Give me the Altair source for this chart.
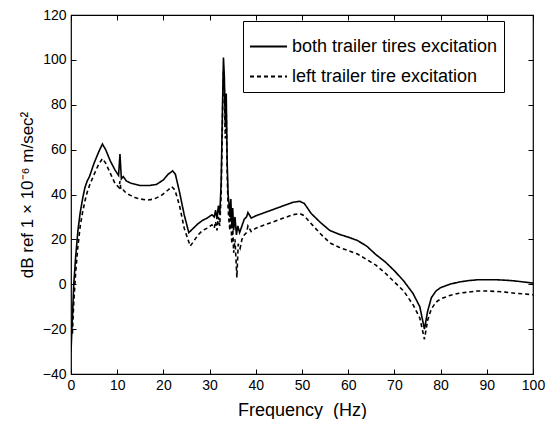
import altair as alt
import pandas as pd

# ---- data ----
series_names = ["both trailer tires excitation", "left trailer tire excitation"]

freq_both = [0, 0.3, 0.6, 1.0, 1.5, 2.0, 2.5, 3.0, 3.5, 4.0, 5.0, 6.0, 6.8, 7.5, 8.5, 9.5,
             10.3, 10.6, 10.9, 11.3, 12, 13, 15, 17, 18.5, 20, 21, 22, 22.6, 23.5, 24.5, 25.5,
             26.5, 27.5, 28.5, 29.5, 30.5, 31.0, 31.3, 31.6, 31.9, 32.2, 32.5, 32.8, 33.0, 33.2,
             33.4, 33.6, 33.8, 34.0, 34.2, 34.4, 34.6, 34.8, 35.0, 35.2, 35.5, 35.8, 36.1, 36.5,
             37.0, 37.5, 38.0, 38.3, 39, 40, 42, 44, 46, 48, 49.5, 50.5, 52, 54, 56, 58, 60,
             62, 64, 66, 68, 70, 72, 74, 75.5, 76.5, 77.2, 78, 79, 80, 82, 84, 86, 88, 90, 92,
             94, 96, 98, 100]
db_both = [-30, -15, 0, 12, 24, 32, 38, 43, 46, 48, 54, 59, 62.5, 60, 55, 51,
           48.5, 58, 47, 48, 46, 45, 44, 44, 44.5, 46.5, 49, 50.5, 49, 41, 31, 23,
           25, 27, 28.5, 29.5, 31, 30, 33, 29, 35, 31, 45, 80, 101, 92,
           70, 85, 55, 40, 36, 30, 38, 26, 34, 24, 30, 22, 26, 23,
           26, 29, 30, 32, 29.5, 30.5, 32, 33.5, 35, 36.5, 37, 36, 31.5, 27.5, 24, 22.3, 21,
           19.5, 17, 13.2, 10, 6, 1.5, -4, -10, -20, -12, -6, -3, -1.5, 0, 1, 1.6, 2, 2, 2,
           1.8, 1.5, 1, 0.5]

freq_left = [0.3, 0.6, 1.0, 1.5, 2.0, 2.5, 3.0, 3.5, 4.0, 5.0, 6.0, 6.8, 7.5, 8.5, 9.5,
             10.4, 10.6, 10.8, 11.3, 12, 13, 14, 15, 16.5, 18, 19.5, 21, 21.8, 22.5, 23.5, 24.5,
             25.8, 26.5, 27.5, 28.5, 29.5, 30.5, 31.0, 31.3, 31.6, 31.9, 32.2, 32.5, 32.8, 33.0,
             33.2, 33.4, 33.6, 33.8, 34.0, 34.2, 34.4, 34.6, 34.8, 35.0, 35.2, 35.5, 35.9, 36.2,
             36.6, 37.0, 37.5, 38.0, 38.3, 39, 40, 42, 44, 46, 48, 49.5, 50.5, 52, 54, 56, 58,
             60, 62, 64, 66, 68, 70, 72, 74, 75.5, 76.5, 77.2, 78, 79, 80, 82, 84, 86, 88, 90,
             92, 94, 96, 98, 100]
db_left = [-22, -8, 5, 17, 26, 32, 37, 41, 44, 49, 53.5, 56, 54, 49.5, 45,
           43, 46, 42, 42, 40.5, 39.5, 38.5, 38, 37.5, 38, 39.5, 42, 43.5, 42, 35, 25,
           17, 19, 22, 24, 25, 26.5, 25, 28, 24, 30, 26, 40, 75, 95,
           86, 65, 78, 50, 34, 28, 24, 32, 18, 26, 14, 20, 3, 18,
           16, 20, 22, 23, 26, 23.5, 25, 26.5, 28, 29.5, 31, 31.5, 30.5, 27, 22.5, 18.5, 16.5,
           15, 13.5, 11, 8.5, 5, 1, -3, -9, -15, -24.5, -16, -11, -8, -6.5, -5, -4, -3.5, -3, -3,
           -3.2, -3.5, -4, -4.3, -4.7]

x_ticks = [0, 10, 20, 30, 40, 50, 60, 70, 80, 90, 100]
y_ticks = [-40, -20, 0, 20, 40, 60, 80, 100, 120]

df = pd.concat([
    pd.DataFrame({"f": freq_both, "v": db_both, "series": series_names[0]}),
    pd.DataFrame({"f": freq_left, "v": db_left, "series": series_names[1]}),
], ignore_index=True)

W, H = 462, 359
FONT = "Liberation Sans"

x_scale = alt.Scale(domain=[0, 100], nice=False, zero=False)
y_scale = alt.Scale(domain=[-40, 120], nice=False, zero=False)

lines = alt.Chart(df).mark_line(clip=True, color="black", strokeWidth=1.6).encode(
    x=alt.X("f:Q", scale=x_scale,
            axis=alt.Axis(values=x_ticks, ticks=False, domain=False, grid=False,
                          title="Frequency\u00a0\u00a0(Hz)", titleFontSize=18,
                          titleFont=FONT, titleFontWeight="normal", titleColor="black",
                          titlePadding=9, labelFont=FONT, labelFontSize=14,
                          labelColor="black", labelPadding=4, labelFlush=False)),
    y=alt.Y("v:Q", scale=y_scale,
            axis=alt.Axis(values=y_ticks, ticks=False, domain=False, grid=False,
                          title="dB ref 1 \u00d7 10\u207b\u2076 m/sec\u00b2", titleFontSize=17,
                          titleFont=FONT, titleFontWeight="normal", titleColor="black",
                          titlePadding=6, labelFont=FONT, labelFontSize=14,
                          labelColor="black", labelPadding=5, labelFlush=False)),
    strokeDash=alt.StrokeDash(
        "series:N",
        scale=alt.Scale(domain=series_names, range=[[1, 0], [4, 3]]),
        legend=alt.Legend(title=None, orient="none", legendX=172, legendY=6,
                          fillColor="white", strokeColor="black", padding=6,
                          symbolType="stroke", symbolSize=1369, symbolStrokeWidth=1.8,
                          symbolStrokeColor="black", labelFontSize=18, labelFont=FONT,
                          labelColor="black", rowPadding=1, labelOffset=4, labelLimit=400),
    ),
)

tick_a = alt.Chart(df).mark_point(opacity=0).encode(
    x=alt.X("f:Q", scale=x_scale,
            axis=alt.Axis(orient="top", offset=-H, values=x_ticks, labels=False, domain=False,
                          grid=False, tickSize=5, tickColor="black", title=None)),
    y=alt.Y("v:Q", scale=y_scale,
            axis=alt.Axis(orient="right", offset=-W, values=y_ticks, labels=False, domain=False,
                          grid=False, tickSize=5, tickColor="black", title=None)),
)

tick_b = alt.Chart(df).mark_point(opacity=0).encode(
    x=alt.X("f:Q", scale=x_scale,
            axis=alt.Axis(orient="bottom", offset=-H, values=x_ticks, labels=False, domain=False,
                          grid=False, tickSize=5, tickColor="black", title=None)),
    y=alt.Y("v:Q", scale=y_scale,
            axis=alt.Axis(orient="left", offset=-W, values=y_ticks, labels=False, domain=False,
                          grid=False, tickSize=5, tickColor="black", title=None)),
)

chart = alt.layer(lines, tick_a, tick_b).resolve_axis(x="independent", y="independent").properties(
    width=W, height=H,
    autosize=alt.AutoSizeParams(type="none"),
    padding={"left": 63, "top": 7, "right": 14, "bottom": 45},
    background="white",
).configure_view(stroke="black", strokeWidth=1.2)

chart.save("out.html", embed_options={"renderer": "svg", "actions": False})
